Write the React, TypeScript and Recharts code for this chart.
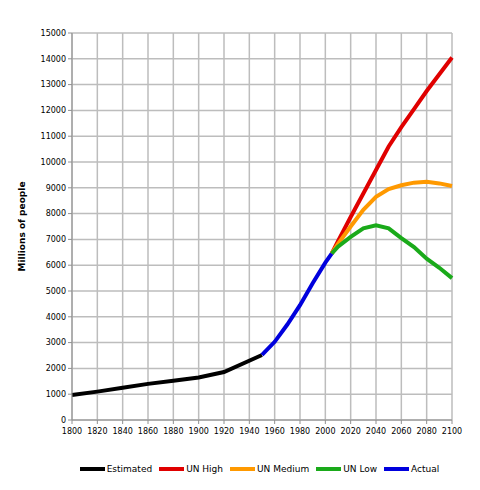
import { CartesianGrid, Legend, Line, LineChart, XAxis, YAxis } from 'recharts'

const estYears = [1800, 1820, 1840, 1860, 1880, 1900, 1920, 1950]
const estimated = [970, 1100, 1250, 1400, 1520, 1650, 1860, 2520]

const actualYears = [1950, 1960, 1970, 1980, 1990, 2000, 2005]
const actual = [2520, 3030, 3700, 4450, 5300, 6100, 6450]

const projYears = [2005, 2010, 2020, 2030, 2040, 2050, 2060, 2070, 2080, 2090, 2100]
const unHigh = [6450, 6930, 7870, 8780, 9690, 10600, 11350, 12050, 12750, 13400, 14050]
const unMedium = [6450, 6830, 7500, 8150, 8650, 8950, 9100, 9200, 9230, 9170, 9070]
const unLow = [6450, 6720, 7100, 7430, 7550, 7430, 7050, 6700, 6250, 5900, 5500]

const xTicks = [1800, 1820, 1840, 1860, 1880, 1900, 1920, 1940, 1960, 1980, 2000, 2020, 2040, 2060, 2080, 2100]
const yTicks = [0, 1000, 2000, 3000, 4000, 5000, 6000, 7000, 8000, 9000, 10000, 11000, 12000, 13000, 14000, 15000]

const SERIES = [
  { key: 'estimated', name: 'Estimated', color: '#000000' },
  { key: 'high', name: 'UN High', color: '#e00000' },
  { key: 'medium', name: 'UN Medium', color: '#ff9900' },
  { key: 'low', name: 'UN Low', color: '#1aaa1a' },
  { key: 'actual', name: 'Actual', color: '#0000dd' },
]

type Row = { year: number; [k: string]: number }

function buildRows() {
  const map = new Map<number, Row>()
  const put = (years: number[], values: number[], key: string) => {
    years.forEach((y, i) => {
      const row = map.get(y) ?? { year: y }
      row[key] = values[i]
      map.set(y, row)
    })
  }
  put(estYears, estimated, 'estimated')
  put(actualYears, actual, 'actual')
  put(projYears, unHigh, 'high')
  put(projYears, unMedium, 'medium')
  put(projYears, unLow, 'low')
  return [...map.values()].sort((a, b) => a.year - b.year)
}

const data = buildRows()
const font = 'DejaVu Sans, Verdana, sans-serif'

function LegendContent() {
  return (
    <div style={{ display: 'flex', justifyContent: 'center', alignItems: 'center', fontFamily: font, fontSize: 9, color: '#000', paddingLeft: 46 }}>
      {SERIES.map((s) => (
        <div key={s.key} style={{ display: 'flex', alignItems: 'center', marginRight: 7 }}>
          <span style={{ display: 'inline-block', width: 25, height: 4, background: s.color, marginRight: 2 }} />
          <span>{s.name}</span>
        </div>
      ))}
    </div>
  )
}

export default function App() {
  return (
    <div style={{ position: 'absolute', left: 0, top: 0, width: 480, height: 490, background: '#fff' }}>
      <LineChart width={480} height={490} data={data} margin={{ top: 33, right: 28, bottom: 30, left: 20 }}>
        <CartesianGrid stroke="#bdbdbd" strokeWidth={1.5} />
        <XAxis
          dataKey="year"
          type="number"
          domain={[1800, 2100]}
          ticks={xTicks}
          interval={0}
          height={30}
          stroke="#909090"
          tickSize={4}
          tickMargin={4}
          tick={{ fontSize: 8, fill: '#000', fontFamily: font }}
        />
        <YAxis
          type="number"
          domain={[0, 15000]}
          ticks={yTicks}
          interval={0}
          width={52}
          stroke="#909090"
          tickSize={4}
          tick={{ fontSize: 8, fill: '#000', fontFamily: font }}
          label={{
            value: 'Millions of people',
            angle: -90,
            position: 'insideLeft',
            offset: 2,
            style: { fontSize: 9, fontWeight: 'bold', fill: '#000', fontFamily: font, textAnchor: 'middle' },
          }}
        />
        <Legend content={<LegendContent />} wrapperStyle={{ top: 464, left: 0, width: 480 }} />
        {SERIES.map((s) => (
          <Line
            key={s.key}
            dataKey={s.key}
            name={s.name}
            type="linear"
            stroke={s.color}
            strokeWidth={4}
            dot={false}
            activeDot={false}
            connectNulls
            isAnimationActive={false}
          />
        ))}
      </LineChart>
    </div>
  )
}
